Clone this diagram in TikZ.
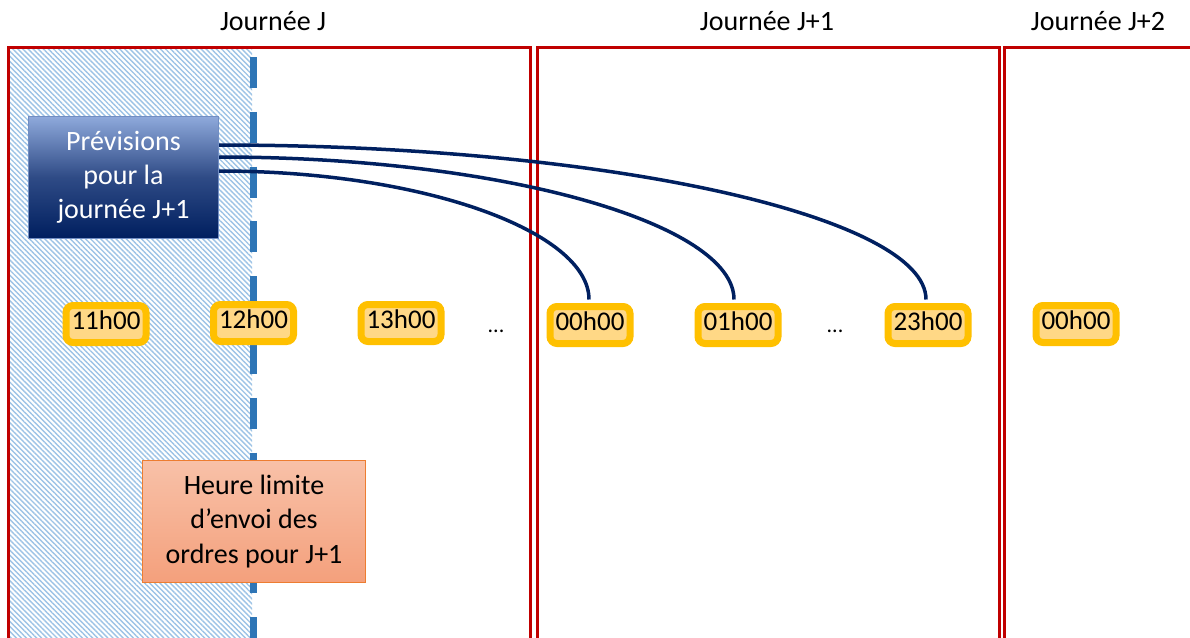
\documentclass[tikz,border=0pt]{standalone}
\usepackage{fontspec}
\setmainfont{Carlito}
\usetikzlibrary{patterns.meta}
\definecolor{redbox}{HTML}{C00000}
\definecolor{hatchblue}{HTML}{9DC3E6}
\definecolor{dashblue}{HTML}{2E75B6}
\definecolor{navy}{HTML}{002060}
\definecolor{ybord}{HTML}{FFC000}
\definecolor{yfill}{HTML}{FFD886}
\definecolor{prevtop}{HTML}{8FAADC}
\definecolor{prevmid}{HTML}{2F4B86}
\definecolor{prevbot}{HTML}{001F5F}
\definecolor{heutop}{HTML}{F8C1A8}
\definecolor{heubot}{HTML}{F4A07C}
\definecolor{heubord}{HTML}{ED7D31}
\tikzset{
  daybox/.style={draw=redbox, line width=3pt},
  daytitle/.style={anchor=base, font=\fontsize{28}{34}\selectfont, inner sep=0pt},
  timebox/.style={draw=ybord, fill=yfill, line width=7pt, rounded corners=7pt,
    minimum width=80pt, minimum height=37pt, inner sep=0pt,
    text height=18pt, text depth=8pt, font=\fontsize{27}{32}\selectfont},
  dots/.style={font=\fontsize{22}{26}\selectfont, anchor=base, inner sep=0pt},
  prevbox/.style={draw=prevtop!80!navy, line width=1pt, top color=prevtop, bottom color=prevbot,
    middle color=prevmid, minimum width=190pt, minimum height=122pt, text=white, align=center,
    inner sep=0pt, font=\fontsize{28}{34}\selectfont},
  heubox/.style={draw=heubord, line width=1pt, top color=heutop, bottom color=heubot,
    minimum width=223pt, minimum height=122pt, text=black, align=center,
    inner sep=0pt, font=\fontsize{28}{34.5}\selectfont},
  dashline/.style={draw=dashblue, line width=6.5pt, dash pattern=on 31pt off 23.8pt},
  link/.style={draw=navy, line width=3.5pt, shorten >=3.5pt},
}
\begin{document}
\begin{tikzpicture}[x=1pt, y=-1pt]
\useasboundingbox (0,0) rectangle (1190,637);
\clip (0,0) rectangle (1190,637);
\fill[white] (0,0) rectangle (1190,637);
% hatched area
\fill[pattern={Lines[angle=-45,distance=3.6pt,line width=1.4pt]}, pattern color=hatchblue]
  (8,47) rectangle (252,640);
% day boxes
\draw[daybox] (8,645) -- (8,47) -- (530,47) -- (530,645);
\draw[daybox] (537,645) -- (537,47) -- (999,47) -- (999,645);
\draw[daybox] (1004,645) -- (1004,47) -- (1200,47);
% titles
\node[daytitle] (dj) at (273,30) {Journée J};
\node[daytitle] (dj1) at (767,30) {Journée J+1};
\node[daytitle] (dj2) at (1098,30) {Journée J+2};
% dashed deadline line
\draw[dashline] (253.5,57) -- (253.5,306);
\draw[dashline] (253.5,343) -- (253.5,660);
% forecast box
\node[prevbox] (prev) at (123.5,177) {Prévisions\\pour la\\journée J+1};
% deadline box
\node[heubox] (heu) at (254,521.5) {Heure limite\\d’envoi des\\ordres pour J+1};
% time boxes
\node[timebox] (t11) at (106,324) {11h00};
\node[timebox] (t12) at (253.5,323) {12h00};
\node[timebox] (t13) at (401,323) {13h00};
\node[dots] (d1) at (496,332) {...};
\node[timebox] (t00) at (590,325) {00h00};
\node[timebox] (t01) at (738,325) {01h00};
\node[dots] (d2) at (835,332) {...};
\node[timebox] (t23) at (928,325) {23h00};
\node[timebox] (t00b) at (1076,324) {00h00};
% links
\draw[link] ([yshift=32pt]prev.east) .. controls +(390,0) and +(0,-86) .. ([xshift=-2pt]t23.north);
\draw[link] ([yshift=20pt]prev.east) .. controls +(285,0) and +(0,-79) .. ([xshift=-4pt]t01.north);
\draw[link] ([yshift=6pt]prev.east) .. controls +(205,0) and +(0,-71) .. ([xshift=-1pt]t00.north);
\end{tikzpicture}
\end{document}
